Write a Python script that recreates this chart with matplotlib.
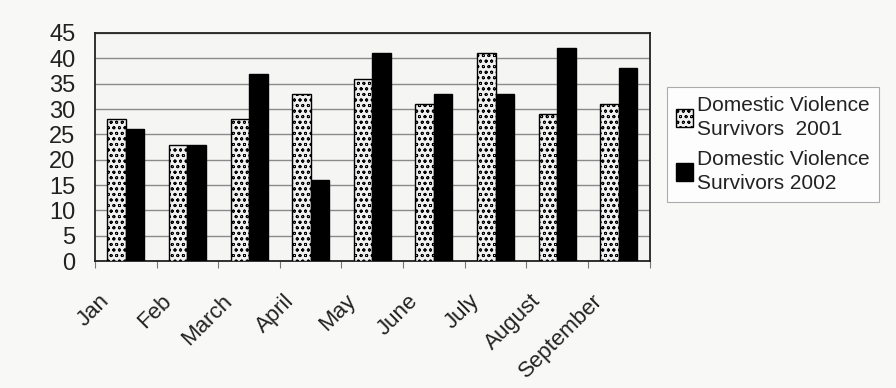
import numpy as np
import matplotlib
matplotlib.use("Agg")
import matplotlib.pyplot as plt
import matplotlib.transforms as mtransforms

plt.rcParams['font.family'] = ['Liberation Sans', 'DejaVu Sans']
plt.rcParams['hatch.linewidth'] = 0.6
plt.rcParams['hatch.color'] = '#9a9a9a'

months = ['Jan', 'Feb', 'March', 'April', 'May', 'June', 'July', 'August', 'September']
survivors_2001 = [28, 23, 28, 33, 36, 31, 41, 29, 31]
survivors_2002 = [26, 23, 37, 16, 41, 33, 33, 42, 38]
label_2001 = 'Domestic Violence\nSurvivors  2001'
label_2002 = 'Domestic Violence\nSurvivors 2002'

fig = plt.figure(figsize=(8.96, 3.88), dpi=100, facecolor='#f8f8f7')
ax = fig.add_axes([0.106, 0.327, 0.619, 0.588])
ax.set_facecolor('#f5f5f4')

x = np.arange(len(months))
w = 0.3
ax.bar(x - w / 2, survivors_2001, w, facecolor='#f0f0f0', edgecolor='black',
       linewidth=1.0, hatch='ooo', label=label_2001, zorder=3)
ax.bar(x + w / 2, survivors_2002, w, facecolor='black', edgecolor='black',
       linewidth=1.0, label=label_2002, zorder=3)

ax.set_xlim(-0.5, len(months) - 0.5)
ax.set_ylim(0, 45)
ax.set_yticks(range(0, 46, 5))
ax.yaxis.grid(True, color='#8a8a8a', linewidth=1.0, zorder=0)
ax.tick_params(axis='y', labelsize=17, length=0, pad=14, labelcolor='#222222')

# boundary ticks, labels on centres
ax.set_xticks(np.arange(-0.5, len(months)), minor=False)
ax.set_xticklabels([])
ax.tick_params(axis='x', which='major', length=5, color='#777777', direction='out')
ax.set_xticks(x, minor=True)
ax.set_xticklabels(months, minor=True, rotation=45, ha='right', va='top', fontsize=16)
ax.tick_params(axis='x', which='minor', length=0, pad=21, labelcolor='#222222')
shift = mtransforms.ScaledTranslation(-0.12, 0, fig.dpi_scale_trans)
for lab in ax.get_xticklabels(minor=True):
    lab.set_transform(lab.get_transform() + shift)

for s in ax.spines.values():
    s.set_color('#222222')
    s.set_linewidth(1.3)

leg = ax.legend(loc='upper left', bbox_to_anchor=(1.031, 0.763), borderaxespad=0,
                fontsize=15, frameon=True, fancybox=False, edgecolor='#999999',
                facecolor='white', handlelength=0.8, handleheight=0.9,
                handletextpad=0.2, labelspacing=0.55, borderpad=0.45)
leg.get_frame().set_linewidth(0.8)
for t in leg.get_texts():
    t.set_linespacing(1.3)
    t.set_color('#222222')

fig.savefig('out.png', dpi=100, facecolor=fig.get_facecolor())
